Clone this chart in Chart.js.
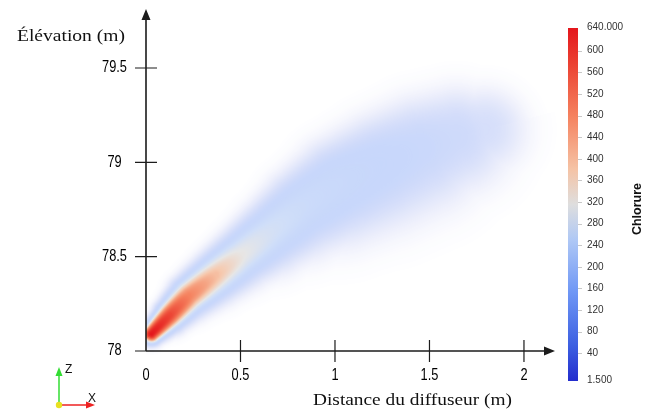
<!DOCTYPE html>
<html>
<head>
    <title>Panache de chlorure</title>
    <script src="https://cdn.jsdelivr.net/npm/chart.js"></script>
    <style>
        body { margin: 0; background: #fff; }
        #wrap { width: 649px; height: 415px; }
    </style>
</head>
<body>
<div id="wrap"><canvas id="plumeChart"></canvas></div>
<script>
    // axis ticks
    const xTicks = [0, 0.5, 1, 1.5, 2];
    const yTicks = [78, 78.5, 79, 79.5];
    const cbarTicks = [40, 80, 120, 160, 200, 240, 280, 320, 360, 400, 440, 480, 520, 560, 600];
    const cbarRange = [1.5, 640];

    // plume centreline, spread above / below it (m) and centreline chloride
    const plumeX = [0.03, 0.13, 0.23, 0.37, 0.51, 0.66, 0.82, 1.02, 1.24, 1.45, 1.64, 1.79, 1.89];
    const plumeY = [78.09, 78.19, 78.29, 78.40, 78.51, 78.63, 78.76, 78.89, 78.99, 79.07, 79.13, 79.17, 79.19];
    const plumeSpreadUp = [0.05, 0.075, 0.095, 0.11, 0.125, 0.145, 0.17, 0.20, 0.22, 0.235, 0.23, 0.20, 0.14];
    const plumeSpreadDown = [0.05, 0.075, 0.095, 0.115, 0.135, 0.17, 0.21, 0.26, 0.28, 0.28, 0.25, 0.20, 0.14];
    const plumeConc = [640, 570, 480, 400, 325, 275, 240, 215, 185, 155, 130, 100, 55];

    // cool-to-warm colour map
    const colorStops = [
        [0.00, [35, 45, 205]],
        [0.10, [60, 95, 225]],
        [0.25, [110, 150, 245]],
        [0.40, [175, 200, 245]],
        [0.50, [222, 222, 222]],
        [0.60, [245, 195, 165]],
        [0.75, [245, 130, 95]],
        [0.90, [235, 65, 50]],
        [1.00, [228, 22, 28]]
    ];

    function cmap(t) {
        t = Math.max(0, Math.min(1, t));
        for (let i = 1; i < colorStops.length; i++) {
            const [t1, c1] = colorStops[i];
            if (t <= t1) {
                const [t0, c0] = colorStops[i - 1];
                const f = (t - t0) / (t1 - t0);
                return c0.map((v, k) => Math.round(v + f * (c1[k] - v)));
            }
        }
        return colorStops[colorStops.length - 1][1];
    }

    function squeezeText(ctx, text, x, y, sx) {
        ctx.save();
        ctx.translate(x, y);
        ctx.scale(sx, 1);
        ctx.fillText(text, 0, 0);
        ctx.restore();
    }

    function fitText(ctx, text, x, y, width) {
        squeezeText(ctx, text, x, y, width / ctx.measureText(text).width);
    }

    const plumePlugin = {
        id: 'plume',
        beforeDatasetsDraw(chart) {
            const { ctx, chartArea: a, scales: { x, y } } = chart;
            const ds = chart.data.datasets[0];
            const ppm = x.getPixelForValue(1) - x.getPixelForValue(0);
            const pts = ds.data.map((p, i) => ({
                px: x.getPixelForValue(p.x),
                py: y.getPixelForValue(p.y),
                wu: ds.spreadUp[i] * ppm,
                wd: ds.spreadDown[i] * ppm,
                c: ds.conc[i]
            }));
            const W = Math.round(a.right - a.left), H = Math.round(a.bottom - a.top);
            const off = document.createElement('canvas');
            off.width = W; off.height = H;
            const octx = off.getContext('2d');
            const img = octx.createImageData(W, H);
            const lo = cbarRange[0], span = cbarRange[1] - cbarRange[0];
            for (let j = 0; j < H; j++) {
                const py = a.top + j + 0.5;
                for (let i = 0; i < W; i++) {
                    const px = a.left + i + 0.5;
                    let v = 0;
                    for (let k = 0; k < pts.length - 1; k++) {
                        const p0 = pts[k], p1 = pts[k + 1];
                        const dx = p1.px - p0.px, dy = p1.py - p0.py;
                        let t = ((px - p0.px) * dx + (py - p0.py) * dy) / (dx * dx + dy * dy);
                        t = Math.max(0, Math.min(1, t));
                        const qx = p0.px + t * dx - px, qy = p0.py + t * dy - py;
                        const above = dx * (py - p0.py) - dy * (px - p0.px) < 0;
                        const w = above ? p0.wu + t * (p1.wu - p0.wu) : p0.wd + t * (p1.wd - p0.wd);
                        const c = p0.c + t * (p1.c - p0.c);
                        const r = Math.sqrt(qx * qx + qy * qy) / w;
                        const val = c * Math.exp(-Math.pow(r, above ? 2.6 : 2.2));
                        if (val > v) v = val;
                    }
                    if (v < lo) continue;
                    const col = cmap((v - lo) / span);
                    const o = (j * W + i) * 4;
                    img.data[o] = col[0];
                    img.data[o + 1] = col[1];
                    img.data[o + 2] = col[2];
                    img.data[o + 3] = Math.round(255 * Math.min(1, v / 430));
                }
            }
            octx.putImageData(img, 0, 0);
            ctx.drawImage(off, a.left, a.top);
        }
    };

    const axesPlugin = {
        id: 'axes',
        afterDraw(chart) {
            const { ctx, chartArea: a, scales: { x, y, c } } = chart;
            const x0 = x.getPixelForValue(0), y0 = y.getPixelForValue(78);
            ctx.save();
            ctx.strokeStyle = '#1c1c1c';
            ctx.fillStyle = '#1c1c1c';
            ctx.lineWidth = 1.6;

            // axis lines with arrows
            ctx.beginPath();
            ctx.moveTo(x0, y0); ctx.lineTo(x0, 18);
            ctx.moveTo(x0, y0); ctx.lineTo(545, y0);
            ctx.stroke();
            ctx.beginPath();
            ctx.moveTo(x0, 9); ctx.lineTo(x0 - 4.5, 20); ctx.lineTo(x0 + 4.5, 20); ctx.closePath();
            ctx.moveTo(555, y0); ctx.lineTo(544, y0 - 4.5); ctx.lineTo(544, y0 + 4.5); ctx.closePath();
            ctx.fill();

            // ticks
            ctx.lineWidth = 1.2;
            ctx.beginPath();
            yTicks.forEach(v => {
                const py = y.getPixelForValue(v);
                ctx.moveTo(x0 - 11, py); ctx.lineTo(v === 78 ? x0 : x0 + 11, py);
            });
            xTicks.forEach(v => {
                if (v === 0) return;
                const px = x.getPixelForValue(v);
                ctx.moveTo(px, y0 - 11); ctx.lineTo(px, y0 + 11);
            });
            ctx.stroke();

            // tick labels
            ctx.font = '16px "Liberation Sans", Arial, sans-serif';
            ctx.textAlign = 'center';
            ctx.textBaseline = 'middle';
            ctx.fillStyle = '#000';
            yTicks.forEach(v => squeezeText(ctx, String(v), 114.5, y.getPixelForValue(v), 0.8));
            xTicks.forEach(v => squeezeText(ctx, String(v), x.getPixelForValue(v), 376, 0.8));

            // axis titles
            ctx.font = '17px "Liberation Serif", "DejaVu Serif", serif';
            ctx.textAlign = 'left';
            ctx.fillStyle = '#111';
            fitText(ctx, 'Élévation (m)', 17, 37, 108);
            fitText(ctx, 'Distance du diffuseur (m)', 313, 401, 199);

            // colour bar
            const bx = a.right, bw = 10, top = a.top, bot = a.bottom;
            const grad = ctx.createLinearGradient(0, bot, 0, top);
            colorStops.forEach(([t, col]) => grad.addColorStop(t, `rgb(${col.join(',')})`));
            ctx.fillStyle = grad;
            ctx.fillRect(bx, top, bw, bot - top);

            ctx.strokeStyle = '#c8c8c8';
            ctx.lineWidth = 1;
            ctx.beginPath();
            cbarTicks.forEach(v => {
                const py = Math.round(c.getPixelForValue(v)) + 0.5;
                ctx.moveTo(bx + bw, py); ctx.lineTo(bx + bw + 4, py);
            });
            ctx.stroke();

            ctx.fillStyle = '#333';
            ctx.font = '10px "Liberation Sans", Arial, sans-serif';
            ctx.textAlign = 'left';
            cbarTicks.forEach(v => ctx.fillText(String(v), 587, c.getPixelForValue(v)));
            ctx.fillText(cbarRange[1].toFixed(3), 587, 27);
            ctx.fillText(cbarRange[0].toFixed(3), 587, 380);

            ctx.save();
            ctx.translate(638, 209);
            ctx.rotate(-Math.PI / 2);
            ctx.textAlign = 'center';
            ctx.fillStyle = '#111';
            ctx.font = 'bold 12.5px "Liberation Sans", Arial, sans-serif';
            ctx.fillText('Chlorure', 0, 0);
            ctx.restore();

            // orientation triad
            ctx.lineWidth = 1.5;
            ctx.strokeStyle = '#33dd33';
            ctx.fillStyle = '#33dd33';
            ctx.beginPath(); ctx.moveTo(59, 405); ctx.lineTo(59, 374); ctx.stroke();
            ctx.beginPath(); ctx.moveTo(59, 367); ctx.lineTo(55.5, 376); ctx.lineTo(62.5, 376); ctx.closePath(); ctx.fill();
            ctx.strokeStyle = '#ee2222';
            ctx.fillStyle = '#ee2222';
            ctx.beginPath(); ctx.moveTo(59, 405); ctx.lineTo(87, 405); ctx.stroke();
            ctx.beginPath(); ctx.moveTo(95, 405); ctx.lineTo(86, 401.5); ctx.lineTo(86, 408.5); ctx.closePath(); ctx.fill();
            ctx.fillStyle = '#e8e020';
            ctx.beginPath(); ctx.arc(59, 405, 3.2, 0, Math.PI * 2); ctx.fill();
            ctx.fillStyle = '#111';
            ctx.font = '12px "Liberation Sans", Arial, sans-serif';
            ctx.fillText('Z', 65, 370);
            ctx.fillText('X', 88, 399);
            ctx.restore();
        }
    };

    const chart = new Chart(document.getElementById('plumeChart'), {
        type: 'scatter',
        data: {
            datasets: [{
                label: 'Chlorure',
                data: plumeX.map((v, i) => ({ x: v, y: plumeY[i] })),
                spreadUp: plumeSpreadUp,
                spreadDown: plumeSpreadDown,
                conc: plumeConc,
                pointRadius: 0,
                showLine: false
            }]
        },
        options: {
            responsive: true,
            maintainAspectRatio: false,
            animation: false,
            layout: { padding: { left: 146, right: 81, top: 28, bottom: 34 } },
            plugins: { legend: { display: false }, tooltip: { enabled: false } },
            scales: {
                x: { type: 'linear', min: 0, max: 2.233, display: false },
                y: { type: 'linear', min: 77.841, max: 79.712, display: false },
                c: { type: 'linear', axis: 'y', min: -11.3, max: 642, display: false }
            }
        },
        plugins: [plumePlugin, axesPlugin]
    });
</script>
</body>
</html>
